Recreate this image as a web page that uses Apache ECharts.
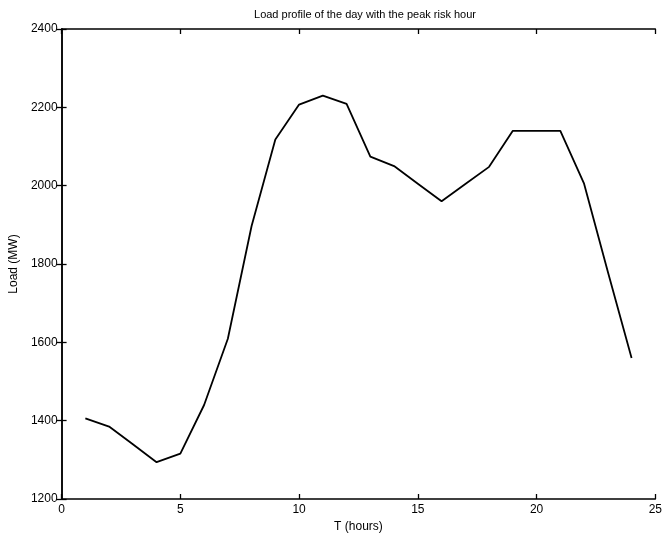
<!DOCTYPE html>
<html>
<head>
<meta charset="utf-8">
<script src="https://cdn.jsdelivr.net/npm/echarts@6/dist/echarts.min.js"></script>
<style>
html,body{margin:0;padding:0;background:#fff;}
#chart{width:665px;height:538px;}
</style>
</head>
<body>
<div id="chart"></div>
<script>
var hours = [1,2,3,4,5,6,7,8,9,10,11,12,13,14,15,16,17,18,19,20,21,22,23,24];
var loadMW = [1406,1385,1340,1294,1316,1440,1609,1897,2118,2207,2230,2209,2074,2050,2005,1960,2004,2048,2140,2140,2140,2005,1780,1560];
var titleText = 'Load profile of the day with the peak risk hour';
var xName = 'T (hours)';
var yName = 'Load (MW)';

var chart = echarts.init(document.getElementById('chart'));
var font = 'Liberation Sans, Arial, sans-serif';
var pts = hours.map(function(h,i){return [h, loadMW[i]];});
var axLine = {show:true, lineStyle:{color:'#000', width:1.5}};
var ticks = {show:true, inside:true, length:5, lineStyle:{color:'#000', width:1.3}};
chart.setOption({
  animation:false,
  backgroundColor:'#fff',
  title:{text:titleText, left:360, top:4, textAlign:'center',
    textStyle:{fontFamily:font, fontSize:11, fontWeight:'normal', color:'#000'}},
  grid:{left:61, right:5, top:29, bottom:37, containLabel:false},
  xAxis:[{type:'value', min:0, max:25, interval:5, position:'bottom',
    name:xName, nameLocation:'middle', nameGap:22,
    nameTextStyle:{fontFamily:font, fontSize:12, color:'#000'},
    axisLine:axLine, axisTick:ticks, splitLine:{show:false},
    axisLabel:{fontFamily:font, fontSize:12, color:'#000', margin:5,
      formatter:function(v){return String(v);}}},
   {type:'value', min:0, max:25, interval:5, position:'top',
    axisLine:axLine, axisTick:ticks, splitLine:{show:false}, axisLabel:{show:false}}],
  yAxis:[{type:'value', min:1200, max:2400, interval:200, position:'left',
    name:yName, nameLocation:'middle', nameGap:38,
    nameTextStyle:{fontFamily:font, fontSize:12, color:'#000'},
    axisLine:axLine, axisTick:ticks, splitLine:{show:false},
    axisLabel:{fontFamily:font, fontSize:12, color:'#000', margin:4,
      formatter:function(v){return String(v);}}},
   {type:'value', min:1200, max:2400, interval:200, position:'right',
    axisLine:axLine, axisTick:ticks, splitLine:{show:false}, axisLabel:{show:false}}],
  series:[{type:'line', data:pts, xAxisIndex:0, yAxisIndex:0, showSymbol:false,
    lineStyle:{color:'#000', width:1.8}}]
});
</script>
</body>
</html>
